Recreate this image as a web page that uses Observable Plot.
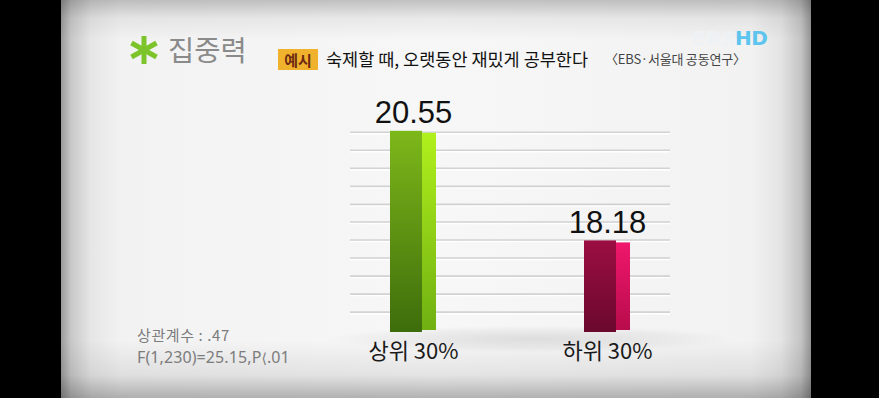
<!DOCTYPE html>
<html><head><meta charset="utf-8">
<script src="https://cdn.jsdelivr.net/npm/d3@7"></script>
<script src="https://cdn.jsdelivr.net/npm/@observablehq/plot@0.6"></script>
<style>
html,body{margin:0;padding:0;background:#000;width:879px;height:398px;overflow:hidden;}
#stage{position:relative;width:879px;height:398px;font-family:"Noto Sans CJK KR","Noto Sans",sans-serif;}
#panel{position:absolute;left:61px;top:0;width:750px;height:398px;
 background:
  linear-gradient(to bottom, rgba(0,0,0,0.22) 0px, rgba(0,0,0,0.06) 18px, rgba(0,0,0,0) 40px, rgba(0,0,0,0) 340px, rgba(0,0,0,0.08) 375px, rgba(0,0,0,0.28) 398px),
  linear-gradient(to right, #9a9a9a 0px, #c8c8c8 10px, #e6e6e6 30px, #f2f2f2 60px, #f7f7f7 50%, #f2f2f2 calc(100% - 60px), #e4e4e4 calc(100% - 30px), #c4c4c4 calc(100% - 10px), #959595 100%);}
#floor{position:absolute;left:330px;top:326px;width:400px;height:26px;
 background:radial-gradient(ellipse at center, rgba(0,0,0,0.10) 0%, rgba(0,0,0,0.04) 50%, rgba(0,0,0,0) 72%);}
#chart{position:absolute;left:0;top:0;}
.t{position:absolute;white-space:nowrap;line-height:1;}
#title{left:168px;top:35px;font-size:28.5px;color:#8a8a8a;}
#tag{left:278px;top:49px;width:40px;height:21px;background:#f0b22c;color:#6e2a12;font-size:15px;font-weight:bold;text-align:center;line-height:21px;}
#sub{left:326px;top:50px;font-size:17.5px;color:#111;}
#cite{left:605px;top:52px;font-size:13px;color:#444;letter-spacing:-0.2px;}
#logoE{left:692px;top:28px;font-size:20px;font-weight:bold;font-family:"DejaVu Sans",sans-serif;color:#eef2f4;}
#logoH{left:735px;top:28px;font-size:20px;font-weight:bold;font-family:"DejaVu Sans",sans-serif;color:#5cc4ee;letter-spacing:-0.5px;}
#stats1,#stats2{left:137px;color:#7c7c7c;line-height:normal;}
#stats1{top:324px;font-size:15px;letter-spacing:0.6px;}
#stats2{top:346px;font-size:16px;font-family:"Noto Sans",sans-serif;letter-spacing:0.1px;}
.br{font-family:"DejaVu Sans",sans-serif;font-size:14px;}
</style></head><body>
<div id="stage">
 <div id="panel"></div>
 <div id="floor"></div>
 <svg width="0" height="0" style="position:absolute">
  <defs>
   <linearGradient id="gFront" x1="0" y1="0" x2="0" y2="1"><stop offset="0" stop-color="#7db81a"/><stop offset="1" stop-color="#3d6d0b"/></linearGradient>
   <linearGradient id="gSide" x1="0" y1="0" x2="0" y2="1"><stop offset="0" stop-color="#b0f01c"/><stop offset="1" stop-color="#70b012"/></linearGradient>
   <linearGradient id="rFront" x1="0" y1="0" x2="0" y2="1"><stop offset="0" stop-color="#9c0e42"/><stop offset="1" stop-color="#6a082e"/></linearGradient>
   <linearGradient id="rSide" x1="0" y1="0" x2="0" y2="1"><stop offset="0" stop-color="#f0176c"/><stop offset="1" stop-color="#b80c4c"/></linearGradient>
  </defs>
 </svg>
 <div id="chart"></div>
 <svg class="t" style="left:128px;top:34px" width="34" height="32" viewBox="0 0 34 32">
  <g stroke="#7cc42a" stroke-width="5" transform="translate(16,16)">
   <line x1="0" y1="-14" x2="0" y2="14"/>
   <line x1="-12.5" y1="-7" x2="12.5" y2="7"/>
   <line x1="-12.5" y1="7" x2="12.5" y2="-7"/>
  </g>
 </svg>
 <div class="t" id="title">집중력</div>
 <div class="t" id="tag">예시</div>
 <div class="t" id="sub">숙제할 때, 오랫동안 재밌게 공부한다</div>
 <div class="t" id="cite">〈EBS·서울대 공동연구〉</div>
 <div class="t" id="logoE">EBS</div>
 <div class="t" id="logoH">HD</div>
 <div class="t" id="stats1">상관계수 : .47</div>
 <div class="t" id="stats2">F(1,230)=25.15,P<span class="br">⟨</span>.01</div>
</div>
<script>
const categories = ["상위 30%", "하위 30%"];
const values = [20.55, 18.18];
const valueLabels = ["20.55", "18.18"];
const yDomain = [16.2, 21];
const gridTicks = [16.64, 17.03, 17.42, 17.81, 18.20, 18.59, 18.97, 19.36, 19.75, 20.14, 20.53];

const data = categories.map((c, i) => ({group: c, value: values[i], label: valueLabels[i]}));
const fills = {
  "상위 30%": {front: "url(#gFront)", side: "url(#gSide)"},
  "하위 30%": {front: "url(#rFront)", side: "url(#rSide)"}
};
const base = () => yDomain[0];

const plot = Plot.plot({
  width: 879, height: 398,
  marginLeft: 350, marginRight: 209, marginTop: 110, marginBottom: 66,
  style: {background: "transparent", overflow: "visible"},
  x: {type: "band", domain: categories, range: [389, 630], paddingInner: 0.764, paddingOuter: 0, axis: null},
  y: {domain: yDomain, range: [332, 110], axis: null},
  color: {type: "identity"},
  marks: [
    Plot.ruleY(gridTicks, {stroke: "#ffffff", strokeWidth: 1.5, dy: 1.5}),
    Plot.ruleY(gridTicks, {stroke: "#d2d2d2", strokeWidth: 1.6}),
    Plot.barY(data, {x: "group", y1: base, y2: "value", fill: d => fills[d.group].front, insetRight: 14}),
    Plot.barY(data, {x: "group", y1: base, y2: "value", fill: d => fills[d.group].side, insetLeft: 32, insetTop: 2, insetBottom: 2}),
    Plot.text(data, {x: "group", y: "value", text: "label", dy: -8, lineAnchor: "bottom", fontSize: 31, fontFamily: "Liberation Sans", letterSpacing: -1.5, fill: "#111"}),
    Plot.text(data, {x: "group", y: base, text: "group", lineAnchor: "top", dy: 11, fontSize: 22, fontFamily: "Noto Sans CJK KR", fill: "#1a1a1a"})
  ]
});
document.getElementById("chart").appendChild(plot);
</script>
</body></html>
